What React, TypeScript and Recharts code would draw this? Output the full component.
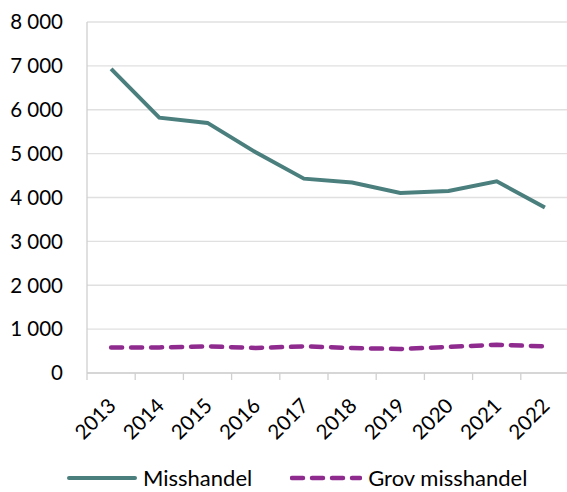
import React from 'react';
import { LineChart, Line, XAxis, YAxis, CartesianGrid, Legend } from 'recharts';

const years = ['2013', '2014', '2015', '2016', '2017', '2018', '2019', '2020', '2021', '2022'];
const misshandel = [6930, 5820, 5700, 5030, 4430, 4340, 4105, 4150, 4370, 3770];
const grovMisshandel = [584, 584, 607, 570, 607, 570, 547, 593, 645, 607];
const yTicks = [0, 1000, 2000, 3000, 4000, 5000, 6000, 7000, 8000];

const TEAL = '#4a7f7e';
const PURPLE = '#8f2a8f';
const FONT = 'Lato, "Open Sans", sans-serif';

const CHART_W = 569;
const CHART_H = 492;
const PLOT_LEFT = 87;
const BAND = (CHART_W - PLOT_LEFT) / years.length;

const data = years.map((year, i) => ({
  year,
  misshandel: misshandel[i],
  grov: grovMisshandel[i],
}));

const formatThousands = (v: number) =>
  v.toString().replace(/\B(?=(\d{3})+(?!\d))/g, ' ');

const YearTick = (props: any) => {
  const { x, y, payload, index } = props;
  return (
    <g>
      <line x1={x - BAND / 2} y1={y} x2={x - BAND / 2} y2={y + 7} stroke="#d0d0d0" strokeWidth={1.3} />
      {index === years.length - 1 && (
        <line x1={x + BAND / 2} y1={y} x2={x + BAND / 2} y2={y + 7} stroke="#d0d0d0" strokeWidth={1.3} />
      )}
      <g transform={`translate(${x + 6},${y + 34})`}>
        <text textAnchor="end" transform="rotate(-45)" fontSize={20.5} fill="#000" fontFamily={FONT}>
          {payload.value}
        </text>
      </g>
    </g>
  );
};

const renderLegend = () => (
  <div
    style={{
      display: 'flex',
      alignItems: 'center',
      height: 26,
      lineHeight: '24px',
      fontFamily: FONT,
      fontSize: 22,
      color: '#000',
      paddingTop: 2,
    }}
  >
    <svg width={70} height={10} style={{ marginLeft: 67, marginRight: 6 }}>
      <line x1={2} y1={5} x2={68} y2={5} stroke={TEAL} strokeWidth={4} strokeLinecap="round" />
    </svg>
    <span>Misshandel</span>
    <svg width={72} height={10} style={{ marginLeft: 38, marginRight: 6 }}>
      <line x1={2} y1={5} x2={70} y2={5} stroke={PURPLE} strokeWidth={4.5} strokeDasharray="11 9" strokeLinecap="round" />
    </svg>
    <span>Grov misshandel</span>
  </div>
);

export default function App() {
  return (
    <div style={{ position: 'absolute', left: 0, top: 0, width: 567, height: 492, overflow: 'hidden', background: '#fff' }}>
      <LineChart width={CHART_W} height={CHART_H} data={data} margin={{ top: 22, right: 0, left: 0, bottom: 0 }}>
        <CartesianGrid vertical={false} stroke="#e0e0e0" strokeWidth={1.3} />
        <XAxis
          dataKey="year"
          height={90}
          interval={0}
          padding={{ left: BAND / 2, right: BAND / 2 }}
          tickLine={false}
          tickSize={0}
          tickMargin={0}
          axisLine={{ stroke: '#d0d0d0', strokeWidth: 1.3 }}
          tick={<YearTick />}
        />
        <YAxis
          width={PLOT_LEFT}
          domain={[0, 8000]}
          ticks={yTicks}
          interval={0}
          tickLine={false}
          tickSize={0}
          tickMargin={24}
          axisLine={{ stroke: '#d0d0d0', strokeWidth: 1.3 }}
          tickFormatter={formatThousands}
          tick={{ fontSize: 20.5, fill: '#000', fontFamily: FONT }}
        />
        <Legend verticalAlign="bottom" height={29} content={renderLegend} />
        <Line
          type="linear"
          dataKey="misshandel"
          name="Misshandel"
          stroke={TEAL}
          strokeWidth={4}
          dot={false}
          activeDot={false}
          isAnimationActive={false}
        />
        <Line
          type="linear"
          dataKey="grov"
          name="Grov misshandel"
          stroke={PURPLE}
          strokeWidth={4.5}
          strokeDasharray="11 9"
          strokeLinecap="round"
          dot={false}
          activeDot={false}
          isAnimationActive={false}
        />
      </LineChart>
    </div>
  );
}
